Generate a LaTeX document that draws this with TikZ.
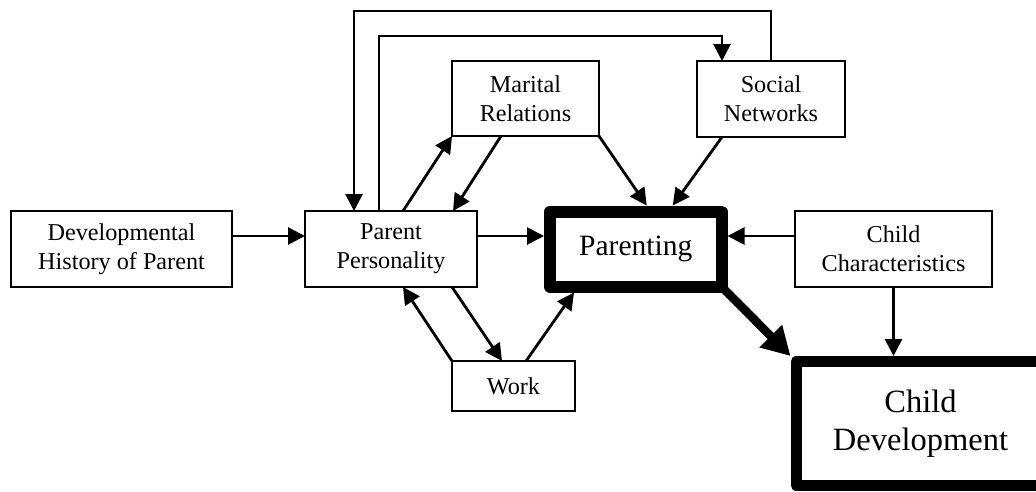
\documentclass[tikz,border=0pt]{standalone}
\usepackage{fontspec}
\setmainfont{Liberation Serif}
\usetikzlibrary{arrows.meta,calc}
\tikzset{
  box/.style={draw, line width=2.2pt, inner sep=0pt, outer sep=0pt, align=center,
    font=\fontsize{24.2}{29}\selectfont},
  bigbox/.style={draw, line width=12pt, line join=round, inner sep=0pt, outer sep=6pt, align=center},
  arr/.style={line width=2.8pt, -{Triangle[length=17pt,width=17pt]}},
  thickarr/.style={line width=8.5pt, -{Triangle[length=28pt,width=30pt]}}
}
\begin{document}
\begin{tikzpicture}[x=1pt,y=-1pt]
\useasboundingbox (0,0) rectangle (1036,491);
\clip (0,0) rectangle (1036,491);
\node[box, minimum width=221pt, minimum height=76pt] (dev) at (121.5,249) {Developmental\\History of Parent};
\node[box, minimum width=172pt, minimum height=76pt] (pp) at (391,249) {Parent\\Personality};
\node[box, minimum width=147pt, minimum height=75pt] (mar) at (525.5,98.5) {Marital\\Relations};
\node[box, minimum width=148pt, minimum height=76pt] (soc) at (771,99) {Social\\Networks};
\node[box, minimum width=197pt, minimum height=76pt] (cc) at (893.5,249) {Child\\Characteristics};
\node[box, minimum width=123pt, minimum height=50pt] (work) at (513.5,386) {Work};
\node[bigbox, minimum width=171.5pt, minimum height=75pt, font=\fontsize{29.5}{35}\selectfont] (par) at (635.75,249) {Parenting};
\node[bigbox, outer sep=5.5pt, line width=11pt, minimum width=249pt, minimum height=124pt, font=\fontsize{32.5}{38}\selectfont] (cd) at (920.5,423.5) {Child\\Development};

\draw[arr] ([yshift=13pt]dev.east) -- ([yshift=13pt]pp.west);
\draw[arr] ([yshift=13pt]pp.east) -- ([yshift=13pt]par.west);
\draw[arr] ([yshift=13pt]cc.west) -- ([yshift=13pt]par.east);
\draw[arr] ([xshift=-25pt]pp.south east) -- ([xshift=-11.5pt]work.north);
\draw[arr] (work.north west) -- ([xshift=12pt]pp.south);
\draw[arr] ([xshift=12.5pt]work.north) -- ([xshift=30pt]par.south west);
\draw[arr] ([xshift=12pt]pp.north) -- (mar.south west);
\draw[arr] ([xshift=49pt]mar.south west) -- ([xshift=62pt]pp.north);
\draw[arr] (mar.south east) -- ([xshift=11pt]par.north);
\draw[arr] ([xshift=-49pt]soc.south) -- ([xshift=37pt]par.north);
\draw[arr] (soc.north) -- ++(0,50pt) -| ([xshift=-37pt]pp.north);
\draw[arr] ([xshift=-12pt]pp.north) -- ++(0,175pt) -| ([xshift=-49pt]soc.north);
\draw[arr] (cc.south) -- (cc.south |- cd.north);
\draw[thickarr] ([xshift=-6pt,yshift=6pt]par.south east) -- (cd.north west);
\end{tikzpicture}
\end{document}
